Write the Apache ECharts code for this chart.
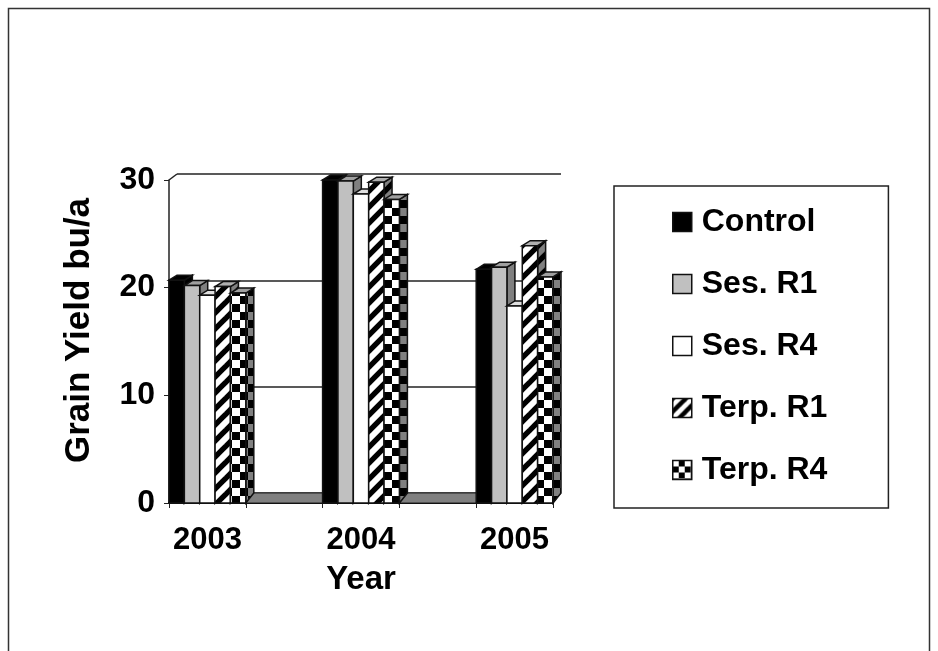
<!DOCTYPE html>
<html>
<head>
<meta charset="utf-8">
<style>
  html, body { margin: 0; padding: 0; background: #fff; }
  #chart { width: 938px; height: 651px; }
</style>
<script src="https://cdn.jsdelivr.net/npm/echarts@6/dist/echarts.min.js"></script>
</head>
<body>
<div id="chart"></div>
<script>
var categories = ['2003', '', '2004', '', '2005'];
var yearSlots = [0, 2, 4];
var yTicks = [0, 10, 20, 30];
var seriesNames = ['Control', 'Ses. R1', 'Ses. R4', 'Terp. R1', 'Terp. R4'];
var control = [20.7, 30.0, 21.7];
var sesR1 = [20.2, 29.9, 21.9];
var sesR4 = [19.3, 28.7, 18.3];
var terpR1 = [20.1, 29.8, 23.9];
var terpR4 = [19.5, 28.2, 21.0];

var DEPTH_X = 8, DEPTH_Y = 5;
var FONT = '"Liberation Sans", Arial, sans-serif';

// patterns
function tile(w, h, draw) {
    var c = document.createElement('canvas');
    c.width = w; c.height = h;
    draw(c.getContext('2d'), w, h);
    return { image: c, repeat: 'repeat' };
}
function hatch(size, bg, fg) {
    return tile(size, size, function (g, w, h) {
        g.fillStyle = bg;
        g.fillRect(0, 0, w, h);
        g.strokeStyle = fg;
        g.lineWidth = size * 0.34;
        [[-w, h * 2, w * 2, -h], [-w, h, w, -h], [0, h * 2, w * 2, 0]].forEach(function (l) {
            g.beginPath();
            g.moveTo(l[0], l[1]);
            g.lineTo(l[2], l[3]);
            g.stroke();
        });
    });
}
function checker(cell, a, b) {
    return tile(cell * 2, cell * 2, function (g) {
        g.fillStyle = a;
        g.fillRect(0, 0, cell * 2, cell * 2);
        g.fillStyle = b;
        g.fillRect(cell, 0, cell, cell);
        g.fillRect(0, cell, cell, cell);
    });
}

var faces = [
    { front: '#000000', top: '#000000', side: '#000000', legend: '#000000' },
    { front: '#c0c0c0', top: '#a0a0a0', side: '#808080', legend: '#c0c0c0' },
    { front: '#ffffff', top: '#e0e0e0', side: '#ffffff', legend: '#ffffff' },
    { front: hatch(16, '#ffffff', '#000000'), top: '#b0b0b0', side: hatch(16, '#808080', '#000000'), legend: hatch(13, '#ffffff', '#000000') },
    { front: checker(8, '#ffffff', '#000000'), top: '#a0a0a0', side: checker(8, '#808080', '#000000'), legend: checker(6, '#ffffff', '#000000') }
];

function barRenderer(barIndex) {
    return function (params, api) {
        var slot = api.size([1, 0])[0];
        var barW = slot / seriesNames.length;
        var base = api.coord([api.value(0), 0]);
        var tip = api.coord([api.value(0), api.value(1)]);
        var x0 = base[0] - slot / 2 + barIndex * barW;
        var x1 = x0 + barW;
        var face = faces[barIndex];
        var line = { stroke: '#111', lineWidth: 1.5 };
        return {
            type: 'group',
            children: [
                {
                    type: 'polygon',
                    shape: { points: [[x1, tip[1]], [x1 + DEPTH_X, tip[1] - DEPTH_Y], [x1 + DEPTH_X, base[1] - DEPTH_Y * 2], [x1, base[1]]] },
                    style: { fill: face.side, stroke: line.stroke, lineWidth: line.lineWidth }
                },
                {
                    type: 'polygon',
                    shape: { points: [[x0, tip[1]], [x0 + DEPTH_X, tip[1] - DEPTH_Y], [x1 + DEPTH_X, tip[1] - DEPTH_Y], [x1, tip[1]]] },
                    style: { fill: face.top, stroke: line.stroke, lineWidth: line.lineWidth }
                },
                {
                    type: 'rect',
                    shape: { x: x0, y: tip[1], width: barW, height: base[1] - tip[1] },
                    style: { fill: face.front, stroke: line.stroke, lineWidth: line.lineWidth }
                }
            ]
        };
    };
}

// floor of the 3d box and the corner at the top of the wall
function floorRenderer(params, api) {
    var slot = api.size([1, 0])[0];
    var origin = api.coord([0, 0]);
    var top = api.coord([0, yTicks[yTicks.length - 1]]);
    var left = origin[0] - slot / 2;
    var right = left + slot * categories.length;
    return {
        type: 'group',
        children: [
            {
                type: 'polygon',
                shape: { points: [[left, origin[1]], [left + 8, origin[1] - 10], [right + 8, origin[1] - 10], [right, origin[1]]] },
                style: { fill: '#808080', stroke: '#222', lineWidth: 1 }
            },
            {
                type: 'line',
                shape: { x1: left, y1: top[1], x2: left + 8, y2: top[1] - 6 },
                style: { stroke: '#222', lineWidth: 1.5 }
            }
        ]
    };
}

var barSeries = [control, sesR1, sesR4, terpR1, terpR4].map(function (values, i) {
    return {
        name: seriesNames[i],
        type: 'custom',
        xAxisIndex: 0,
        yAxisIndex: 0,
        clip: false,
        z: 5 + i,
        renderItem: barRenderer(i),
        encode: { x: 0, y: 1 },
        data: values.map(function (v, k) { return [yearSlots[k], v]; })
    };
});

var chart = echarts.init(document.getElementById('chart'));
chart.setOption({
    backgroundColor: '#ffffff',
    animation: false,
    graphic: [{
        type: 'rect',
        z: -10,
        shape: { x: 8.5, y: 8.5, width: 921, height: 700 },
        style: { fill: 'none', stroke: '#333', lineWidth: 1.5 }
    }],
    legend: {
        orient: 'vertical',
        left: 614,
        top: 186,
        padding: [20, 61, 22, 58],
        borderColor: '#222',
        borderWidth: 1.5,
        itemWidth: 19,
        itemHeight: 19,
        itemGap: 30,
        selectedMode: false,
        textStyle: { fontFamily: FONT, fontWeight: 'bold', fontSize: 32, color: '#000', padding: [0, 0, 0, 5] },
        data: seriesNames.map(function (name, i) {
            return {
                name: name,
                icon: 'rect',
                itemStyle: { color: faces[i].legend, borderColor: '#111', borderWidth: 1.5 }
            };
        })
    },
    grid: [
        { left: 169, right: 385, top: 180, bottom: 148 },
        { left: 177, right: 377, top: 174, bottom: 158 }
    ],
    xAxis: [
        {
            type: 'category',
            gridIndex: 0,
            data: categories,
            name: 'Year',
            nameLocation: 'middle',
            nameGap: 60,
            nameTextStyle: { fontFamily: FONT, fontWeight: 'bold', fontSize: 33, color: '#000' },
            axisLine: { onZero: false, lineStyle: { color: '#000', width: 2 } },
            axisTick: { show: true, length: 5, lineStyle: { color: '#222', width: 1 } },
            axisLabel: { interval: 0, margin: 22, fontFamily: FONT, fontWeight: 'bold', fontSize: 31, color: '#000' }
        },
        { type: 'category', gridIndex: 1, data: categories, show: false }
    ],
    yAxis: [
        {
            type: 'value',
            gridIndex: 0,
            min: 0,
            max: 30,
            interval: 10,
            name: 'Grain Yield bu/a',
            nameLocation: 'middle',
            nameGap: 72,
            nameTextStyle: { fontFamily: FONT, fontWeight: 'bold', fontSize: 35, color: '#000', padding: [0, 0, 0, 22] },
            splitLine: { show: false },
            axisLine: { show: true, lineStyle: { color: '#222', width: 1.5 } },
            axisTick: { show: true, length: 5, lineStyle: { color: '#222', width: 1 } },
            axisLabel: { margin: 14, fontFamily: FONT, fontWeight: 'bold', fontSize: 32, color: '#000' }
        },
        {
            type: 'value',
            gridIndex: 1,
            min: 0,
            max: 30,
            interval: 10,
            axisLine: { show: false },
            axisTick: { show: false },
            axisLabel: { show: false },
            splitLine: { show: true, lineStyle: { color: '#222', width: 1.5 } }
        }
    ],
    series: [{
        type: 'custom',
        xAxisIndex: 0,
        yAxisIndex: 0,
        clip: false,
        silent: true,
        z: 3,
        renderItem: floorRenderer,
        data: [[0, 0]]
    }].concat(barSeries)
});
</script>
</body>
</html>
